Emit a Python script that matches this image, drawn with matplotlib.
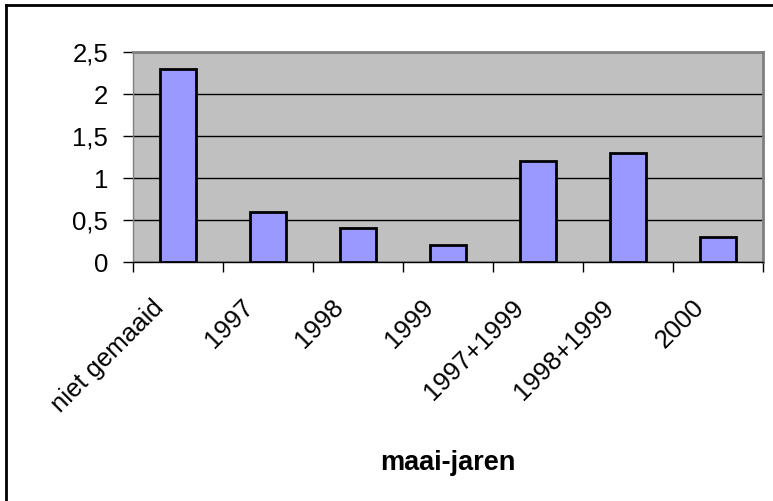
import matplotlib
matplotlib.use("Agg")
import matplotlib.pyplot as plt
from matplotlib.lines import Line2D

categories = ["niet gemaaid", "1997", "1998", "1999", "1997+1999", "1998+1999", "2000"]
values = [2.3, 0.6, 0.4, 0.2, 1.2, 1.3, 0.3]
yticks = [0, 0.5, 1, 1.5, 2, 2.5]
ytick_labels = ["0", "0,5", "1", "1,5", "2", "2,5"]
xlabel = "maai-jaren"

plt.rcParams['font.family'] = ['Liberation Sans', 'DejaVu Sans']

W, H = 773, 501
fig = plt.figure(figsize=(W / 100, H / 100), dpi=100)
fig.patch.set_facecolor("white")

# outer border (top and left visible)
fig.add_artist(Line2D([6 / W, 6 / W], [0, 1 - 5 / H], color="black", lw=2, transform=fig.transFigure))
fig.add_artist(Line2D([6 / W, 1], [1 - 5 / H, 1 - 5 / H], color="black", lw=2, transform=fig.transFigure))

left, right, top, bottom = 133, 763, 52, 262
ax = fig.add_axes([left / W, 1 - bottom / H, (right - left) / W, (bottom - top) / H])
ax.set_facecolor("#C0C0C0")

x = list(range(len(categories)))
ax.bar(x, values, width=0.4, color="#9999FF", edgecolor="black", linewidth=2, zorder=3)

ax.set_xlim(-0.5, len(categories) - 0.5)
ax.set_ylim(0, 2.5)
ax.set_yticks(yticks)
ax.set_yticklabels(ytick_labels, fontsize=18.5)
ax.yaxis.grid(True, color="black", linewidth=1, zorder=1)
ax.set_axisbelow(True)

# category tick marks at boundaries
ax.set_xticks([i + 0.5 for i in range(-1, len(categories))], minor=False)
ax.set_xticklabels([])
ax.tick_params(axis="x", direction="out", length=7, width=1, color="black")
ax.tick_params(axis="y", direction="out", length=7, width=1, color="black", pad=11)

for i, c in enumerate(categories):
    ax.annotate(c, xy=(i, 0), xycoords=("data", "axes fraction"),
                xytext=(-19, -24), textcoords="offset points",
                rotation=45, ha="right", va="top", rotation_mode="anchor",
                fontsize=18.5)

for s in ["top", "right"]:
    ax.spines[s].set_color("#808080")
    ax.spines[s].set_linewidth(2)
ax.spines["left"].set_color("#808080")
ax.spines["left"].set_linewidth(1)
ax.spines["bottom"].set_color("black")
ax.spines["bottom"].set_linewidth(1)

fig.text(448 / W, 1 - 463 / H, xlabel, ha="center", va="center", fontsize=19.5, fontweight="bold")

fig.savefig("out.png", dpi=100)
